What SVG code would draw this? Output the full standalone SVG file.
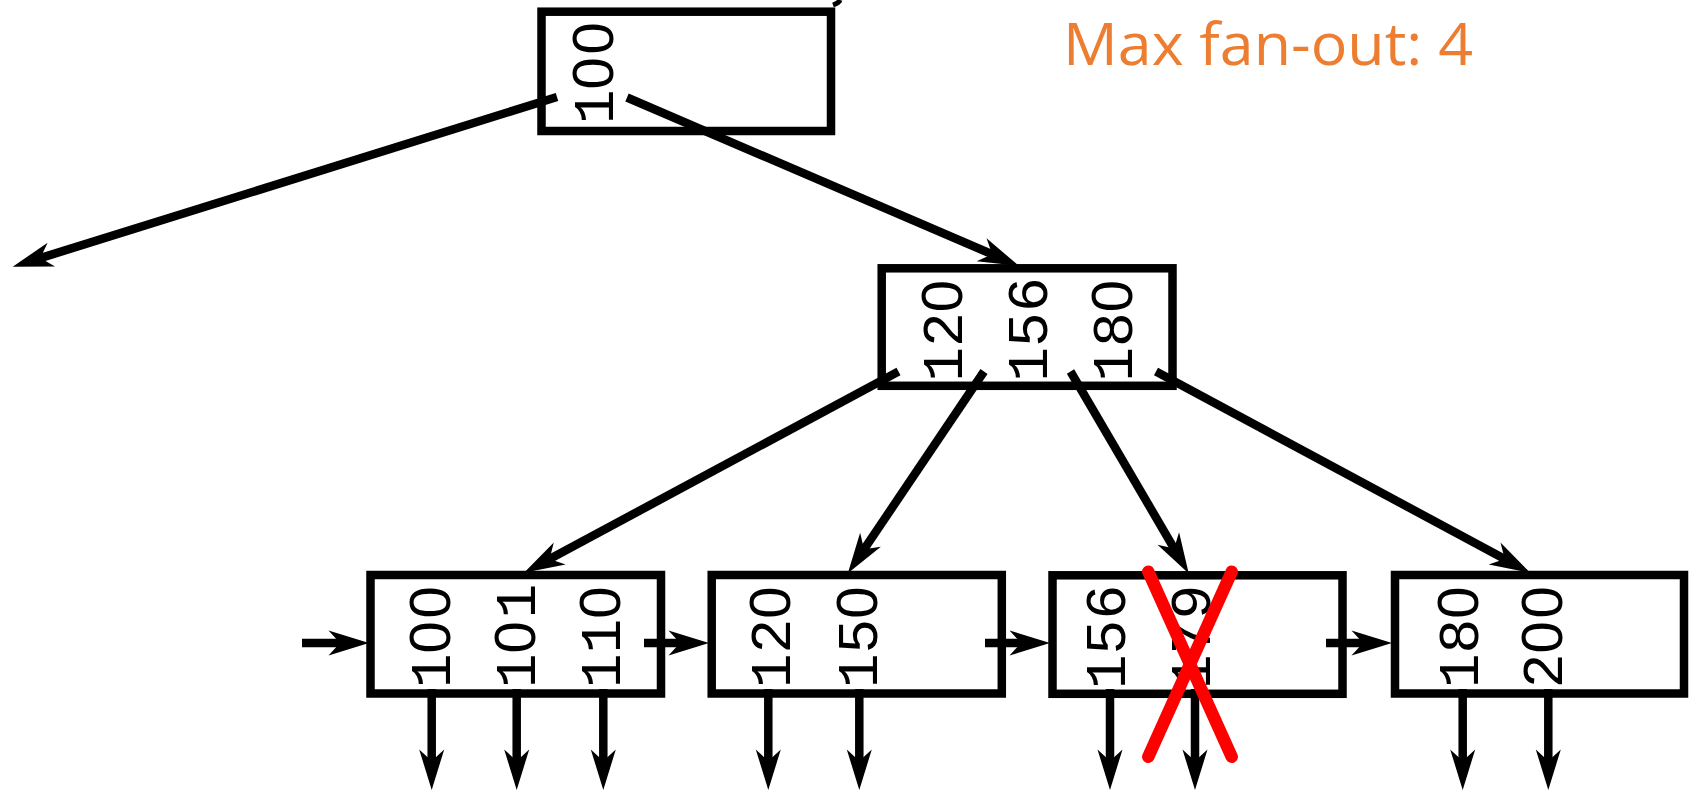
<svg xmlns="http://www.w3.org/2000/svg" width="1692" height="791" viewBox="0 0 1692 791">
<style>
.box{fill:#ffffff;stroke:#000000;stroke-width:8.5}
.key{font-family:"Liberation Mono","DejaVu Sans Mono",monospace;font-size:58px;fill:#000000;text-anchor:middle}
.z{font-family:"Liberation Sans","Arial",sans-serif;letter-spacing:2.6px}
.edge{fill:none;stroke:#000000;stroke-width:8.5;stroke-linecap:butt}
.note{font-family:"Open Sans","Noto Sans",sans-serif;font-size:58px;fill:#ED7D31}
.cross{stroke:#ff0000;stroke-width:12.5;stroke-linecap:round;fill:none}
</style>
<defs>
<marker id="arr" markerUnits="userSpaceOnUse" orient="auto" refX="0" refY="0" markerWidth="60" markerHeight="40" overflow="visible">
<path d="M28,0 L-12.5,-12.5 L-1,0 L-12.5,12.5 Z" fill="#000000"/>
</marker>
</defs>
<rect width="1692" height="791" fill="#ffffff"/>

<path d="M840,0 Q839,3 833,5" fill="none" stroke="#000000" stroke-width="5"/>

<text class="note" x="1063" y="65" textLength="410" lengthAdjust="spacingAndGlyphs">Max fan-out: 4</text>

<g id="root">
<rect class="box" x="541.5" y="11.7" width="289.5" height="119.3"/>
<text class="key" transform="translate(613,72) rotate(-90)">1<tspan class="z">00</tspan></text>
</g>

<g id="internal">
<rect class="box" x="881.7" y="268.3" width="290.8" height="117.5"/>
<text class="key" transform="translate(962,329.5) rotate(-90)">12<tspan class="z">0</tspan></text>
<text class="key" transform="translate(1047,329.5) rotate(-90)">156</text>
<text class="key" transform="translate(1132,329.5) rotate(-90)">18<tspan class="z">0</tspan></text>
</g>

<g id="leaf1">
<rect class="box" x="370.5" y="575" width="290.5" height="118.5"/>
<text class="key" transform="translate(450,636) rotate(-90)">1<tspan class="z">00</tspan></text>
<text class="key" transform="translate(535,636) rotate(-90)">1<tspan class="z">0</tspan>1</text>
<text class="key" transform="translate(620,636) rotate(-90)">11<tspan class="z">0</tspan></text>
</g>

<g id="leaf2">
<rect class="box" x="711.7" y="575" width="290.1" height="118.5"/>
<text class="key" transform="translate(790,636) rotate(-90)">12<tspan class="z">0</tspan></text>
<text class="key" transform="translate(876.7,636) rotate(-90)">15<tspan class="z">0</tspan></text>
</g>

<g id="leaf3">
<rect class="box" x="1052.5" y="575.3" width="290" height="118.5"/>
<text class="key" transform="translate(1125,637) rotate(-90)">156</text>
<text class="key" transform="translate(1210,637) rotate(-90)">179</text>
</g>

<g id="leaf4">
<rect class="box" x="1395" y="575" width="289" height="118.5"/>
<text class="key" transform="translate(1478,636) rotate(-90)">18<tspan class="z">0</tspan></text>
<text class="key" transform="translate(1561.7,636) rotate(-90)">2<tspan class="z">00</tspan></text>
</g>

<g id="connectors">
<line class="edge" x1="557" y1="97" x2="39.4" y2="258.4" marker-end="url(#arr)"/>
<line class="edge" x1="627" y1="97.5" x2="993.1" y2="254.7" marker-end="url(#arr)"/>
<line class="edge" x1="898.5" y1="371.5" x2="548.7" y2="559.5" marker-end="url(#arr)"/>
<line class="edge" x1="984" y1="371.5" x2="863.5" y2="550.1" marker-end="url(#arr)"/>
<line class="edge" x1="1070.5" y1="371.5" x2="1174.6" y2="549.3" marker-end="url(#arr)"/>
<line class="edge" x1="1156" y1="371.5" x2="1505.6" y2="559.5" marker-end="url(#arr)"/>
<line class="edge" x1="302" y1="643" x2="341" y2="643" marker-end="url(#arr)"/>
<line class="edge" x1="644" y1="643" x2="681" y2="643" marker-end="url(#arr)"/>
<line class="edge" x1="985" y1="643" x2="1022" y2="643" marker-end="url(#arr)"/>
<line class="edge" x1="1326" y1="643" x2="1364" y2="643" marker-end="url(#arr)"/>
<line class="edge" x1="431.7" y1="689" x2="431.7" y2="762" marker-end="url(#arr)"/>
<line class="edge" x1="516.7" y1="689" x2="516.7" y2="762" marker-end="url(#arr)"/>
<line class="edge" x1="603.3" y1="689" x2="603.3" y2="762" marker-end="url(#arr)"/>
<line class="edge" x1="768.3" y1="689" x2="768.3" y2="762" marker-end="url(#arr)"/>
<line class="edge" x1="859.3" y1="689" x2="859.3" y2="762" marker-end="url(#arr)"/>
<line class="edge" x1="1110" y1="689" x2="1110" y2="762" marker-end="url(#arr)"/>
<line class="edge" x1="1195" y1="689" x2="1195" y2="762" marker-end="url(#arr)"/>
<line class="edge" x1="1462.7" y1="689" x2="1462.7" y2="762" marker-end="url(#arr)"/>
<line class="edge" x1="1548.3" y1="689" x2="1548.3" y2="762" marker-end="url(#arr)"/>
</g>

<g id="deleted-mark">
<line class="cross" x1="1148.3" y1="571.7" x2="1231.7" y2="756.7"/>
<line class="cross" x1="1231.7" y1="571.7" x2="1148.3" y2="756.7"/>
</g>
</svg>
